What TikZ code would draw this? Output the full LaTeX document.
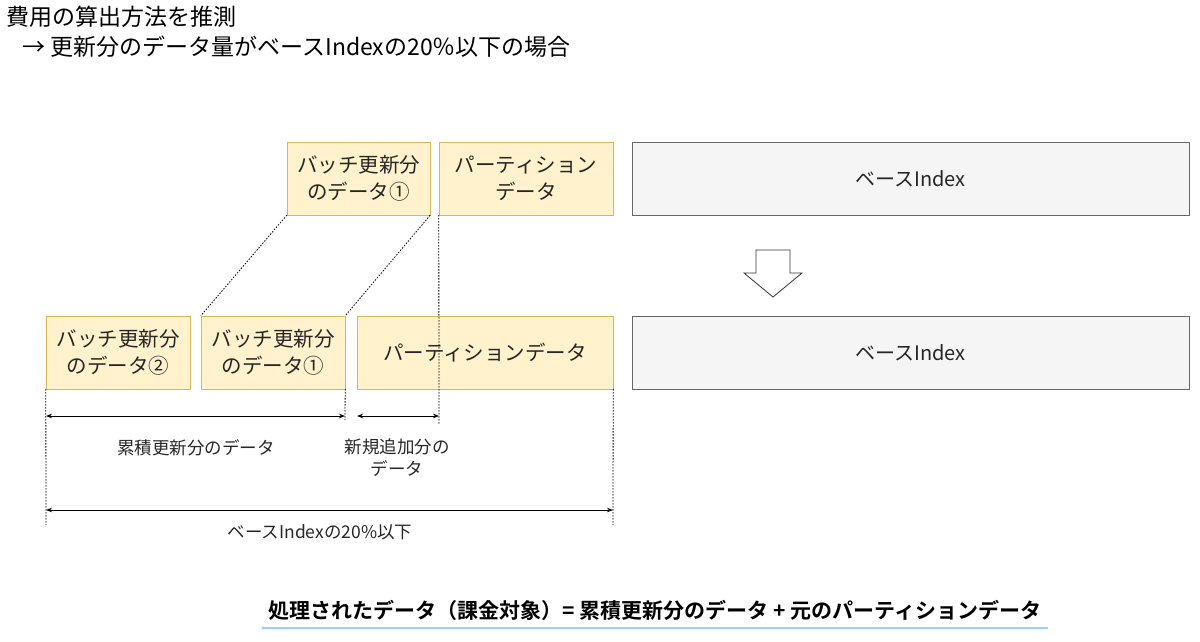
\documentclass[tikz,border=0pt]{standalone}
\usepackage{fontspec}
\setmainfont{Noto Sans CJK JP}[BoldFont={Noto Sans CJK JP Bold}]
\usetikzlibrary{arrows.meta}
\definecolor{yf}{HTML}{FFF2CC}\definecolor{yd}{HTML}{D6B656}
\definecolor{gf}{HTML}{F5F5F5}\definecolor{gd}{HTML}{666666}
\definecolor{ul}{HTML}{99CCFF}
\begin{document}
\begin{tikzpicture}[x=1pt,y=-1pt,
 ybox/.style={draw=yd,fill=yf,inner sep=0,align=center,font=\fontsize{20.5}{27}\selectfont,text=black!85},
 gbox/.style={draw=gd,fill=gf,inner sep=0,align=center,font=\fontsize{20}{27}\selectfont,text=black!85},
 dim/.style={{Stealth[length=6pt]}-{Stealth[length=6pt]},line width=0.8pt},
 dot/.style={dash pattern=on 1.5pt off 1.5pt,line width=0.8pt},
 lbl/.style={font=\fontsize{17.5}{22}\selectfont,align=center,text=black!85}]
\useasboundingbox (0,0) rectangle (1200,641);
\node[anchor=north west,font=\fontsize{23}{30}\selectfont,align=left,inner sep=0] (title) at (6,6) {費用の算出方法を推測\\\hspace{0.7em}→ 更新分のデータ量がベースIndexの20％以下の場合};
\node[ybox,minimum width=143,minimum height=73] (tb1) at (358.5,178.5) {バッチ更新分\\のデータ①};
\node[ybox,minimum width=174,minimum height=73] (tp) at (526,178.5) {パーティション\\データ};
\node[gbox,minimum width=557,minimum height=73] (tbase) at (910.5,178.5) {ベースIndex};
\draw[black!80,fill=white,line width=0.8pt] (756,250) -- (790,250) -- (790,273) -- (802,273) -- (773,297) -- (744,273) -- (756,273) -- cycle;
\node[ybox,minimum width=144,minimum height=73] (b2) at (118,352.5) {バッチ更新分\\のデータ②};
\node[ybox,minimum width=144,minimum height=73] (b1) at (273,352.5) {バッチ更新分\\のデータ①};
\node[ybox,minimum width=256,minimum height=73] (bp) at (485,352.5) {パーティションデータ};
\node[gbox,minimum width=557,minimum height=73] (bbase) at (910.5,352.5) {ベースIndex};
\coordinate (p1) at (439,425);
\coordinate (e1) at (46,525);\coordinate (e2) at (613,525);\coordinate (e3) at (345,420);
\draw[dot] (tb1.south west) -- (b1.north west);
\draw[dot] (tb1.south east) -- (b1.north east);
\draw[dot] (tp.south west) -- (p1);
\draw[dot] (b2.south west) -- (e1);
\draw[dot] (bp.south east) -- (e2);
\draw[dot] (b1.south east) -- (e3);
\coordinate (a1) at (46,416);\coordinate (a2) at (345,416);
\coordinate (a3) at (357,416);\coordinate (a4) at (439,416);
\coordinate (a5) at (46,510);\coordinate (a6) at (613,510);
\draw[dim] (a1) -- (a2);
\draw[dim] (a3) -- (a4);
\draw[dim] (a5) -- (a6);
\node[lbl] (l1) at (196,448) {累積更新分のデータ};
\node[lbl] (l2) at (397,458) {新規追加分の\\データ};
\node[lbl] (l3) at (320,532) {ベースIndexの20\%以下};
\node[font=\fontsize{21}{26}\selectfont\bfseries] (f) at (655,610) {処理されたデータ（課金対象）= 累積更新分のデータ + 元のパーティションデータ};
\draw[ul,line width=1.5pt] (262,628) -- (1048,628);
\end{tikzpicture}
\end{document}
